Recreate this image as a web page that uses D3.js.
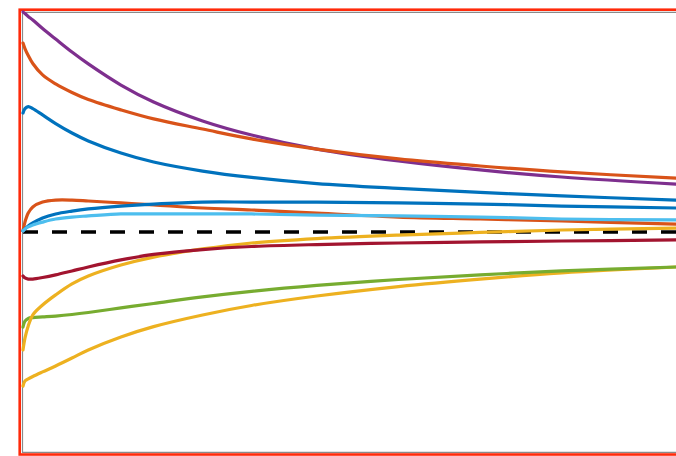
<!DOCTYPE html>
<html>
<head>
<meta charset="utf-8">
<script src="https://cdn.jsdelivr.net/npm/d3@7"></script>
<style>
  html, body { margin: 0; padding: 0; background: #fff; overflow: hidden; }
  svg { display: block; }
</style>
</head>
<body>
<svg id="chart" width="676" height="456"></svg>
<script>
// Shared time grid for all responses
const tGrid = [0, 0.03, 0.08, 0.15, 0.3, 0.5, 0.75, 1, 1.5, 2, 2.75, 3.5, 4.5, 5.75, 7, 8.25, 10];

// Response of each state over time
const purpleVals   = [1.0, 0.993, 0.98, 0.964, 0.925, 0.877, 0.818, 0.764, 0.668, 0.591, 0.505, 0.441, 0.377, 0.323, 0.282, 0.25, 0.218];
const orangeHiVals = [0.859, 0.834, 0.802, 0.766, 0.714, 0.673, 0.634, 0.602, 0.555, 0.514, 0.468, 0.423, 0.377, 0.332, 0.3, 0.273, 0.245];
const blueHiVals   = [0.541, 0.561, 0.570, 0.561, 0.532, 0.493, 0.45, 0.414, 0.359, 0.318, 0.277, 0.248, 0.22, 0.198, 0.18, 0.164, 0.145];
const blueLoVals   = [0.005, 0.014, 0.027, 0.041, 0.064, 0.082, 0.095, 0.105, 0.118, 0.127, 0.136, 0.136, 0.136, 0.132, 0.127, 0.118, 0.109];
const orangeLoVals = [0.005, 0.045, 0.086, 0.114, 0.136, 0.145, 0.145, 0.141, 0.132, 0.123, 0.109, 0.1, 0.086, 0.068, 0.059, 0.05, 0.036];
const skyVals      = [0.005, 0.014, 0.023, 0.032, 0.045, 0.059, 0.068, 0.073, 0.082, 0.082, 0.082, 0.082, 0.077, 0.073, 0.068, 0.059, 0.055];
const yellowHiVals = [-0.536, -0.482, -0.427, -0.377, -0.332, -0.286, -0.236, -0.2, -0.15, -0.114, -0.077, -0.05, -0.03, -0.014, -0.002, 0.009, 0.018];
const crimsonVals  = [-0.2, -0.209, -0.214, -0.214, -0.207, -0.195, -0.177, -0.159, -0.127, -0.102, -0.08, -0.066, -0.057, -0.05, -0.045, -0.041, -0.036];
const greenVals    = [-0.432, -0.405, -0.393, -0.389, -0.386, -0.382, -0.375, -0.366, -0.345, -0.325, -0.295, -0.27, -0.243, -0.216, -0.195, -0.177, -0.159];
const yellowLoVals = [-0.7, -0.677, -0.668, -0.657, -0.636, -0.609, -0.573, -0.536, -0.477, -0.43, -0.377, -0.334, -0.291, -0.248, -0.214, -0.186, -0.159];

const seriesList = [
  { name: "s7",  values: purpleVals,   color: "#7E2F8E" },
  { name: "s2",  values: orangeHiVals, color: "#D95319" },
  { name: "s1",  values: blueHiVals,   color: "#0072BD" },
  { name: "s3",  values: yellowLoVals, color: "#EDB120" },
  { name: "s5",  values: greenVals,    color: "#77AC30" },
  { name: "s3b", values: yellowHiVals, color: "#EDB120" },
  { name: "s6",  values: crimsonVals,  color: "#A2142F" },
  { name: "s2b", values: orangeLoVals, color: "#D95319" },
  { name: "s1b", values: blueLoVals,   color: "#0072BD" },
  { name: "s4",  values: skyVals,      color: "#4DBEEE" }
];

const svg = d3.select("#chart");
const plot = { left: 23, right: 676, top: 12, bottom: 452 };

const x = d3.scaleLinear().domain([0, 10]).range([plot.left, plot.right]);
const y = d3.scaleLinear().domain([-1, 1]).range([plot.bottom, plot.top]);

// Outer red frame
svg.append("rect")
  .attr("x", 19.7).attr("y", 9.7)
  .attr("width", 700).attr("height", 444.8)
  .attr("fill", "none")
  .attr("stroke", "#FF2A0A")
  .attr("stroke-width", 2.6);

// Axes box lines
svg.append("path")
  .attr("d", `M${plot.right + 20},${plot.top + 0.3}H${plot.left - 0.5}V${plot.bottom + 0.3}H${plot.right + 20}`)
  .attr("fill", "none")
  .attr("stroke", "#8a8a8a")
  .attr("stroke-width", 1.2);

const g = svg.append("g");

// Zero reference line
g.append("line")
  .attr("x1", x(0)).attr("x2", x(10) + 20)
  .attr("y1", y(0)).attr("y2", y(0))
  .attr("stroke", "#000")
  .attr("stroke-width", 3.5)
  .attr("stroke-dasharray", "15,14");

const line = d3.line()
  .x((d, i) => x(tGrid[i]))
  .y(d => y(d))
  .curve(d3.curveCatmullRom.alpha(0.5));

g.selectAll("path.series")
  .data(seriesList)
  .join("path")
  .attr("class", "series")
  .attr("d", d => line(d.values))
  .attr("fill", "none")
  .attr("stroke", d => d.color)
  .attr("stroke-width", 3.2)
  .attr("stroke-linejoin", "round")
  .attr("stroke-linecap", "round");
</script>
</body>
</html>
